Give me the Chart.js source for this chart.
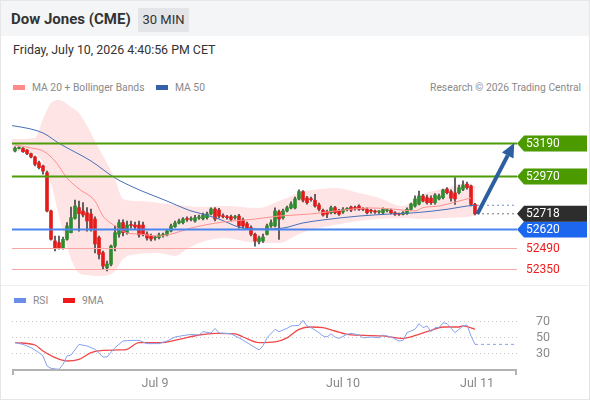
<!doctype html>
<html lang="en">
<head>
<meta charset="utf-8">
<title>Dow Jones (CME) - 30 MIN</title>
<script src="https://cdn.jsdelivr.net/npm/chart.js"></script>
<style>
  body { margin: 0; background: #fff; font-family: Roboto, "Liberation Sans", Arial, sans-serif; }
  .frame { position: relative; width: 590px; height: 400px; box-sizing: border-box; border: 1px solid #e6e6e6; overflow: hidden; }
  .head { position: absolute; left: 0; top: 0; width: 590px; height: 35px; background: #f4f5f7; }
  .title { position: absolute; left: 10px; top: 9px; font-size: 15px; font-weight: bold; color: #333; }
  .tf { position: absolute; left: 137px; top: 7px; width: 51px; height: 24px; background: #e3e5e8; font-size: 13px; line-height: 24px; text-align: center; color: #333; }
  .date { position: absolute; left: 12px; top: 41px; font-size: 12.4px; color: #333; }
  .lg { position: absolute; font-size: 10.3px; color: #8a8a8a; white-space: nowrap; }
  .sw { display: inline-block; width: 12px; height: 5px; vertical-align: middle; margin-right: 7px; position: relative; top: -1px; }
  .divider { position: absolute; left: 0; top: 284px; width: 590px; height: 1px; background: #efefef; }
  canvas { position: absolute; left: 0; }
</style>
</head>
<body>
<div class="frame">
  <div class="head">
    <div class="title">Dow Jones (CME)</div>
    <div class="tf">30 MIN</div>
  </div>
  <div class="date">Friday, July 10, 2026 4:40:56 PM CET</div>
  <div class="lg" style="left:12px; top:80px;"><span class="sw" style="background:#ff8a8a"></span>MA 20 + Bollinger Bands</div>
  <div class="lg" style="left:155px; top:80px;"><span class="sw" style="background:#3561a8"></span>MA 50</div>
  <div class="lg" style="right:8px; top:80px;">Research © 2026 Trading Central</div>
  <div class="divider"></div>
  <div class="lg" style="left:13px; top:293px;"><span class="sw" style="background:#6a8ee8"></span>RSI</div>
  <div class="lg" style="left:62px; top:293px;"><span class="sw" style="background:#f01818"></span>9MA</div>
  <canvas id="priceChart" width="590" height="195" style="top:90px"></canvas>
  <canvas id="rsiChart" width="590" height="110" style="top:290px"></canvas>
</div>
<script>
// candles, 30 min bars (index 0 = first bar on the left)
const open = [53137,53154,53155,53142,53119,53097,53059,53037,52992,52737,
  52537,52526,52488,52548,52592,52688,52759,52737,52725,52717,
  52683,52559,52459,52357,52381,52503,52583,52659,52592,52643,
  52643,52643,52643,52583,52570,52557,52560,52573,52577,52603,
  52632,52657,52659,52681,52680,52670,52690,52685,52692,52717,
  52750,52743,52700,52693,52699,52692,52703,52677,52652,52626,
  52581,52532,52537,52581,52637,52637,52732,52692,52737,52757,
  52757,52817,52866,52824,52817,52808,52777,52741,52732,52725,
  52759,52737,52730,52747,52763,52759,52770,52750,52748,52737,
  52733,52730,52725,52740,52741,52725,52717,52715,52719,52748,
  52770,52783,52837,52826,52822,52792,52817,52826,52883,52866,
  52857,52859,52881,52915,52903,52781];
const high = [53164,53164,53160,53147,53123,53103,53070,53043,53003,52743,
  52570,52570,52563,52659,52763,52810,52803,52792,52759,52750,
  52697,52570,52470,52403,52510,52637,52677,52677,52670,52670,
  52663,52670,52663,52597,52583,52570,52590,52590,52610,52650,
  52670,52683,52693,52697,52697,52707,52710,52723,52730,52757,
  52759,52754,52717,52707,52710,52707,52714,52690,52663,52637,
  52590,52570,52583,52650,52677,52757,52743,52750,52770,52797,
  52830,52877,52873,52834,52830,52848,52790,52750,52743,52770,
  52767,52747,52760,52759,52770,52770,52777,52759,52757,52747,
  52743,52740,52757,52750,52750,52733,52723,52733,52757,52790,
  52837,52870,52847,52843,52837,52853,52850,52883,52892,52877,
  52959,52910,52937,52930,52910,52787];
const low = [53130,53150,53127,53113,53090,53037,53017,52983,52730,52543,
  52470,52483,52483,52543,52590,52683,52603,52697,52603,52603,
  52457,52417,52350,52337,52370,52470,52563,52570,52583,52623,
  52617,52563,52570,52543,52537,52543,52550,52563,52570,52597,
  52627,52650,52650,52667,52670,52663,52680,52677,52683,52710,
  52670,52690,52690,52683,52670,52683,52623,52623,52617,52570,
  52503,52517,52527,52577,52627,52630,52548,52683,52730,52750,
  52750,52810,52797,52783,52803,52763,52737,52703,52692,52717,
  52717,52707,52720,52737,52733,52743,52740,52739,52717,52723,
  52720,52720,52717,52730,52717,52707,52707,52710,52714,52743,
  52763,52777,52797,52783,52781,52783,52810,52817,52850,52803,
  52781,52850,52873,52883,52770,52710];
const close = [53155,53157,53132,53119,53097,53048,53026,53003,52737,52548,
  52488,52488,52548,52637,52692,52770,52719,52710,52670,52617,
  52517,52448,52370,52383,52503,52592,52659,52592,52643,52640,
  52630,52577,52583,52557,52550,52560,52577,52577,52603,52637,
  52657,52670,52683,52680,52683,52692,52697,52710,52717,52750,
  52683,52703,52699,52692,52681,52693,52637,52637,52626,52581,
  52537,52557,52563,52637,52659,52737,52683,52737,52759,52783,
  52817,52866,52808,52792,52812,52770,52748,52710,52715,52759,
  52725,52715,52748,52748,52743,52754,52748,52748,52725,52735,
  52730,52732,52748,52743,52725,52715,52715,52725,52748,52783,
  52817,52837,52803,52792,52792,52843,52837,52877,52859,52822,
  52817,52892,52910,52892,52781,52718];

// moving averages (read at sample bars)
const ma20Idx = [0, 4, 7, 10, 13, 16, 20, 22, 25, 28, 31, 36, 40, 44, 52, 60, 66, 74, 82, 89, 94, 100, 102, 106, 111, 114];
const ma20Val = [53177,53157,53137,53070,52957,52884,52803,52703,52637,52590,52583,52570,52590,52623,52663,52683,52703,52717,52743,52757,52750,52737,52759,52770,52803,52824];
const ma50Idx = [-1, 0, 7, 11, 19, 25, 30, 38, 44, 46, 51, 57, 62, 67, 72, 77, 86, 94, 100, 108, 113, 115];
const ma50Val = [53306,53303,53257,53188,53070,52957,52890,52803,52737,52723,52683,52623,52617,52623,52657,52677,52703,52717,52725,52748,52770,52775];
const bandIdx = [-1, 5, 7, 9, 11, 14, 16, 18, 20, 22, 25, 27, 31, 36, 40, 43, 46, 52, 61, 66, 71, 73, 80, 86, 91, 97, 102, 108, 113, 115];
const bandUpper = [53217,53224,53350,53457,53477,53430,53390,53304,53204,53104,52950,52817,52803,52790,52777,52770,52763,52770,52757,52803,52857,52870,52890,52857,52824,52770,52850,52890,52924,52904];
const bandLower = [53137,53117,53057,52924,52704,52417,52324,52310,52304,52304,52337,52417,52450,52457,52437,52483,52523,52557,52523,52523,52583,52603,52643,52670,52683,52690,52683,52690,52697,52703];

// key levels and last price
const levels = [53190, 52970, 52620, 52490, 52350];
const lastPrice = 52718;
const target = 53190;

// RSI panel
const rsiIdx = [0,2,4,6,7,8,9,11,12,13,14,16,18,20,22,23,25,27,29,31,33,36,38,40,42,44,46,47,49,50,51,54,56,58,61,62,63,65,66,68,69,71,72,73,74,76,77,78,79,80,81,83,84,86,87,89,91,92,94,96,97,98,100,101,102,103,104,105,106,107,108,110,111,112,113,114,115];
const rsiVal = [42.9,40.8,36.7,30.4,26.3,13.8,10.8,9.6,15.8,26.3,27.5,40.8,38.8,34.6,25,25,36.7,45,45.8,45.8,41.7,41.7,45,50,51.7,53.3,52.5,56.7,55,60.8,55,54,49,42.9,33.8,39,49,59.6,56.7,60.8,63.8,64.6,70.8,63.8,61.7,55.4,51.3,50,54,50,48.3,53.3,54.6,52.5,49,50,49,52.5,50,45,45.8,55.4,59.6,66.7,61.7,63.8,56.7,61.7,61.7,67.9,66.7,55.4,59.6,63.8,65,51.3,40.8];
const ma9Idx = [0,5,7,10,13,16,19,22,26,28,31,36,41,46,50,55,57,61,65,68,71,74,77,80,83,87,92,97,101,104,107,111,112,115];
const ma9Val = [42.9,40,32.5,24.2,20,22.1,30.4,33.3,33.8,34.6,42.9,42.9,47,52.5,54.6,54,50,42.9,43.8,49,59.6,62.5,61.7,57.5,53.3,52.1,51.3,48.3,53.3,58.3,62.5,62.5,63.8,59.6];
const rsiLevels = [70, 50, 30];

// time axis
const tickPos = [35, 82, 115.5];
const tickLabels = ['Jul 9', 'Jul 10', 'Jul 11'];

const xMin = -0.75, xMax = 125.5;
const lastIdx = close.length - 1;
const pts = (xs, ys) => xs.map((x, i) => ({ x: x, y: ys[i] }));
const FONT = 'Roboto, "Liberation Sans", Arial, sans-serif';

const levelPlugin = {
  id: 'levels',
  afterDatasetsDraw(chart) {
    const { ctx, chartArea, scales: { x, y } } = chart;
    const lineColors = ['#4f9c0a', '#4f9c0a', '#4a86f0', '#f7a6a6', '#f7a6a6'];
    const lineWidths = [2, 2, 2, 1, 1];
    const tagColors = ['#4a9a00', '#4a9a00', '#1d66ee', null, null];
    const x0 = chartArea.right;
    ctx.save();
    function tag(py, txt, bg) {
      ctx.fillStyle = bg;
      ctx.beginPath();
      ctx.moveTo(x0, py);
      ctx.lineTo(x0 + 7, py - 8);
      ctx.lineTo(586, py - 8);
      ctx.lineTo(586, py + 8);
      ctx.lineTo(x0 + 7, py + 8);
      ctx.closePath();
      ctx.fill();
      ctx.fillStyle = '#fff';
      ctx.font = '12px ' + FONT;
      ctx.textBaseline = 'middle';
      ctx.fillText(txt, x0 + 9, py + 0.5);
    }
    levels.forEach((lv, i) => {
      const py = Math.round(y.getPixelForValue(lv)) + 0.5;
      ctx.strokeStyle = lineColors[i];
      ctx.lineWidth = lineWidths[i];
      ctx.beginPath();
      ctx.moveTo(chartArea.left, py);
      ctx.lineTo(x0, py);
      ctx.stroke();
      if (tagColors[i]) {
        tag(py, String(lv), tagColors[i]);
      } else {
        ctx.fillStyle = '#ee1c1c';
        ctx.font = '12px ' + FONT;
        ctx.textBaseline = 'middle';
        ctx.fillText(String(lv), x0 + 9, py + 0.5);
      }
    });
    tag(y.getPixelForValue(lastPrice), String(lastPrice), '#2d2d2d');

    // arrow towards target
    const ax = x.getPixelForValue(lastIdx + 0.6), ay = y.getPixelForValue(lastPrice);
    const bx = x.getPixelForValue(124.8), by = y.getPixelForValue(target);
    const ang = Math.atan2(by - ay, bx - ax);
    const head = 14, half = 6.5;
    const sx = bx - Math.cos(ang) * head, sy = by - Math.sin(ang) * head;
    ctx.strokeStyle = '#2c5f9f';
    ctx.fillStyle = '#2c5f9f';
    ctx.lineWidth = 4;
    ctx.beginPath();
    ctx.moveTo(ax, ay);
    ctx.lineTo(sx, sy);
    ctx.stroke();
    ctx.beginPath();
    ctx.moveTo(bx, by);
    ctx.lineTo(sx + Math.sin(ang) * half, sy - Math.cos(ang) * half);
    ctx.lineTo(sx - Math.sin(ang) * half, sy + Math.cos(ang) * half);
    ctx.closePath();
    ctx.fill();
    ctx.restore();
  }
};

new Chart(document.getElementById('priceChart'), {
  type: 'bar',
  data: {
    datasets: [
      {
        type: 'bar', order: 1,
        data: open.map((o, i) => ({ x: i, y: [o, close[i]] })),
        backgroundColor: open.map((o, i) => close[i] >= o ? '#2e8b2e' : '#e41b1b'),
        barThickness: 3, minBarLength: 1, grouped: false
      },
      {
        type: 'bar', order: 2,
        data: low.map((l, i) => ({ x: i, y: [l, high[i]] })),
        backgroundColor: '#454545',
        barThickness: 1, grouped: false
      },
      { type: 'line', order: 0, data: pts(ma20Idx, ma20Val), borderColor: '#ff8f8f', borderWidth: 1, pointRadius: 0, cubicInterpolationMode: 'monotone' },
      { type: 'line', order: 0, data: pts(ma50Idx, ma50Val), borderColor: '#4770b8', borderWidth: 1, pointRadius: 0, cubicInterpolationMode: 'monotone' },
      { type: 'line', order: 5, data: pts(bandIdx, bandUpper), borderWidth: 0, pointRadius: 0, fill: '+1', backgroundColor: 'rgba(253, 205, 205, 0.55)', cubicInterpolationMode: 'monotone' },
      { type: 'line', order: 5, data: pts(bandIdx, bandLower), borderWidth: 0, pointRadius: 0, fill: false, cubicInterpolationMode: 'monotone' },
      { type: 'line', order: 0, data: [{ x: lastIdx + 0.5, y: ma50Val[ma50Val.length - 1] }, { x: xMax, y: ma50Val[ma50Val.length - 1] }], borderColor: '#6f90c8', borderWidth: 1, borderDash: [2, 3], pointRadius: 0 },
      { type: 'line', order: 0, data: [{ x: lastIdx + 0.5, y: lastPrice }, { x: xMax, y: lastPrice }], borderColor: '#777', borderWidth: 1, borderDash: [2, 3], pointRadius: 0 }
    ]
  },
  options: {
    responsive: false, animation: false, events: [],
    layout: { padding: { left: 11, right: 74, top: 0, bottom: 0 } },
    scales: {
      x: { type: 'linear', min: xMin, max: xMax, offset: false, display: false },
      y: { min: 52236.67, max: 53536.67, display: false }
    },
    plugins: { legend: { display: false }, tooltip: { enabled: false } }
  },
  plugins: [levelPlugin]
});

const rsiPlugin = {
  id: 'rsiAxes',
  beforeDatasetsDraw(chart) {
    const { ctx, chartArea, scales: { y } } = chart;
    ctx.save();
    ctx.strokeStyle = '#c4c4c4';
    ctx.lineWidth = 1;
    ctx.setLineDash([1, 3]);
    ctx.font = '12.5px ' + FONT;
    ctx.fillStyle = '#8a8a8a';
    ctx.textBaseline = 'middle';
    rsiLevels.forEach(v => {
      const py = Math.round(y.getPixelForValue(v)) + 0.5;
      ctx.beginPath();
      ctx.moveTo(chartArea.left, py);
      ctx.lineTo(chartArea.right, py);
      ctx.stroke();
      ctx.fillText(String(v), chartArea.right + 19, py);
    });
    ctx.restore();
  },
  afterDatasetsDraw(chart) {
    const { ctx, chartArea, scales: { x } } = chart;
    const by = chartArea.bottom;
    ctx.save();
    ctx.strokeStyle = '#b3b3b3';
    ctx.lineWidth = 2;
    ctx.beginPath();
    ctx.moveTo(chartArea.left + 1, by + 5);
    ctx.lineTo(chartArea.left + 1, by);
    ctx.lineTo(chartArea.right - 1, by);
    ctx.lineTo(chartArea.right - 1, by + 5);
    ctx.stroke();
    ctx.fillStyle = '#888';
    ctx.font = '12.5px ' + FONT;
    ctx.textAlign = 'center';
    ctx.textBaseline = 'middle';
    tickPos.forEach((p, i) => ctx.fillText(tickLabels[i], x.getPixelForValue(p), by + 14));
    ctx.restore();
  }
};

new Chart(document.getElementById('rsiChart'), {
  type: 'line',
  data: {
    datasets: [
      { data: pts(rsiIdx, rsiVal), borderColor: '#86a2ee', borderWidth: 1, pointRadius: 0 },
      { data: [{ x: lastIdx, y: rsiVal[rsiVal.length - 1] }, { x: xMax, y: rsiVal[rsiVal.length - 1] }], borderColor: '#86a2ee', borderWidth: 1, borderDash: [3, 3], pointRadius: 0 },
      { data: pts(ma9Idx, ma9Val), borderColor: '#f04848', borderWidth: 1.3, pointRadius: 0, cubicInterpolationMode: 'monotone' }
    ]
  },
  options: {
    responsive: false, animation: false, events: [],
    layout: { padding: { left: 11, right: 74, top: 0, bottom: 31 } },
    scales: {
      x: { type: 'linear', min: xMin, max: xMax, display: false },
      y: { min: 8.75, max: 107.5, display: false }
    },
    plugins: { legend: { display: false }, tooltip: { enabled: false } }
  },
  plugins: [rsiPlugin]
});
</script>
</body>
</html>
